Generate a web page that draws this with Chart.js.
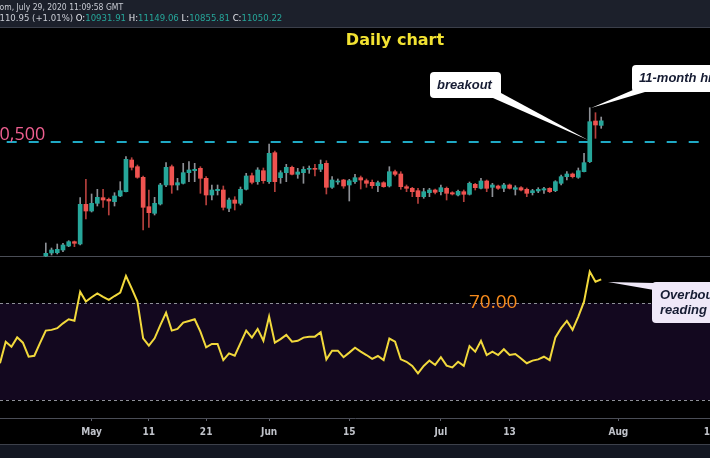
<!DOCTYPE html>
<html>
<head>
<meta charset="utf-8">
<script src="https://cdn.jsdelivr.net/npm/chart.js@4"></script>
<style>
  html, body { margin: 0; padding: 0; background: #000; overflow: hidden; }
  canvas { display: block; }
</style>
</head>
<body>
<canvas id="myChart" width="710" height="458"></canvas>
<script>
// day numbers count from May 1 2020 (= 0)
const candleStart = -8;   // Apr 23
const rsiStart = -16;     // Apr 15

const open = [
  7536, 7614, 7622, 7692, 7796, 7908, 7848, 8880, 8706, 8906,
  9052, 9010, 8948, 9096, 9208, 10032, 9858, 9582, 8818, 8646,
  8888, 9382, 9858, 9382, 9426, 9702, 9754, 9816, 9556, 9122,
  9234, 9252, 8776, 8992, 8906, 9270, 9624, 9468, 9754, 9468,
  10222, 9572, 9702, 9842, 9660, 9702, 9790, 9816, 9790, 9946,
  9322, 9460, 9512, 9382, 9468, 9572, 9494, 9452, 9364, 9442,
  9356, 9728, 9668, 9338, 9296, 9234, 9078, 9182, 9252, 9208,
  9296, 9182, 9122, 9208, 9140, 9400, 9296, 9486, 9322, 9356,
  9296, 9382, 9270, 9312, 9270, 9182, 9226, 9252, 9296, 9234,
  9426, 9598, 9668, 9582, 9728, 9988, 11046, 10932
];
const high = [
  7874, 7744, 7848, 7866, 7934, 7926, 9052, 9530, 9148, 9270,
  9270, 9044, 9182, 9468, 10118, 10092, 9902, 9616, 9252, 9062,
  9426, 9962, 9902, 9556, 9946, 9988, 9946, 9858, 9598, 9382,
  9382, 9356, 9044, 9078, 9330, 9686, 9694, 9832, 9824, 10448,
  10266, 9754, 9920, 9876, 9816, 9858, 9876, 9920, 10032, 10014,
  9598, 9538, 9530, 9530, 9660, 9616, 9538, 9512, 9486, 9468,
  9858, 9772, 9728, 9382, 9322, 9296, 9296, 9296, 9278, 9382,
  9330, 9208, 9252, 9252, 9460, 9426, 9556, 9512, 9426, 9382,
  9426, 9408, 9364, 9338, 9304, 9270, 9312, 9322, 9312, 9494,
  9642, 9728, 9694, 9824, 10206, 11392, 11262, 11149
];
const low = [
  7523, 7562, 7588, 7648, 7778, 7778, 7822, 8498, 8680, 8836,
  8802, 8602, 8836, 9078, 9200, 9772, 9556, 8212, 8282, 8602,
  8862, 9338, 9166, 9252, 9408, 9468, 9468, 9166, 8862, 8992,
  9122, 8732, 8690, 8732, 8862, 9252, 9408, 9400, 9426, 9426,
  9208, 9426, 9468, 9642, 9556, 9426, 9686, 9616, 9728, 9148,
  9296, 9400, 9296, 8966, 9426, 9278, 9322, 9296, 9208, 9322,
  9330, 9616, 9270, 9208, 9078, 8906, 9036, 9078, 9148, 9122,
  8992, 9122, 9096, 8948, 9122, 9252, 9278, 9208, 9078, 9270,
  9208, 9278, 9122, 9226, 9078, 9122, 9182, 9166, 9182, 9208,
  9382, 9512, 9564, 9556, 9720, 9966, 10596, 10856
];
const close = [
  7606, 7692, 7710, 7822, 7908, 7866, 8880, 8706, 8906, 9062,
  8992, 8966, 9096, 9234, 10050, 9842, 9582, 8802, 8662, 8906,
  9382, 9842, 9382, 9442, 9702, 9772, 9790, 9556, 9122, 9252,
  9270, 8802, 8992, 8906, 9270, 9616, 9452, 9772, 9494, 10206,
  9468, 9702, 9842, 9660, 9720, 9790, 9816, 9790, 9920, 9322,
  9512, 9486, 9356, 9494, 9572, 9512, 9426, 9364, 9442, 9338,
  9728, 9660, 9338, 9296, 9208, 9078, 9208, 9252, 9192, 9312,
  9166, 9148, 9218, 9140, 9426, 9312, 9486, 9296, 9382, 9296,
  9382, 9296, 9312, 9252, 9166, 9234, 9270, 9286, 9208, 9468,
  9598, 9668, 9598, 9754, 9962, 11028, 10942, 11050
];
const rsi = [
  45.2, 54.1, 52.0, 55.9, 53.7, 47.9, 48.3, 53.6, 58.7, 59.0,
  59.7, 61.7, 63.4, 62.8, 74.8, 70.7, 72.5, 74.1, 72.7, 71.4,
  73.0, 74.4, 81.3, 76.2, 70.7, 55.5, 52.5, 55.5, 61.0, 66.1,
  58.7, 59.4, 62.0, 62.7, 63.4, 58.3, 51.8, 53.2, 53.2, 46.5,
  49.3, 48.3, 53.5, 58.7, 55.8, 59.4, 54.5, 64.5, 53.7, 55.2,
  56.9, 54.1, 54.5, 55.8, 56.2, 56.2, 58.0, 46.8, 50.4, 50.4,
  47.7, 49.6, 51.6, 50.0, 48.6, 47.0, 48.2, 46.5, 55.4, 54.1,
  46.8, 45.8, 44.1, 41.0, 44.1, 46.3, 44.5, 47.7, 44.2, 43.5,
  45.8, 44.1, 52.3, 50.0, 54.5, 48.6, 50.0, 48.6, 51.0, 48.6,
  49.0, 47.2, 45.2, 46.3, 46.8, 47.9, 46.5, 55.9, 59.7, 62.7,
  59.0, 64.5, 70.7, 83.1, 78.9, 79.9
];

const tickDays = [0, 10, 20, 31, 45, 61, 73, 92, 108];
const tickLabels = ['May', '11', '21', 'Jun', '15', 'Jul', '13', 'Aug', '17'];

const resistance = 10500;
const rsiUpper = 70;
const rsiLower = 30;

const up = '#26a69a';
const down = '#ef5350';

const candleDays = open.map((_, i) => candleStart + i);
const rsiDays = rsi.map((_, i) => rsiStart + i);
const isUp = open.map((o, i) => close[i] >= o);

function callout(ctx, box, tip, fill, lines, lineY) {
  ctx.save();
  ctx.fillStyle = fill;
  ctx.beginPath();
  ctx.moveTo(tip[0][0], tip[0][1]);
  ctx.lineTo(tip[1][0], tip[1][1]);
  ctx.lineTo(tip[2][0], tip[2][1]);
  ctx.closePath();
  ctx.fill();
  ctx.beginPath();
  ctx.roundRect(box.x, box.y, box.w, box.h, 4);
  ctx.fill();
  ctx.fillStyle = '#161c33';
  ctx.font = 'italic bold 13px "Liberation Sans", Arial, sans-serif';
  ctx.textBaseline = 'alphabetic';
  ctx.textAlign = 'left';
  lines.forEach((t, i) => ctx.fillText(t, box.tx, lineY[i]));
  ctx.restore();
}

const panes = {
  id: 'panes',
  beforeDraw(chart) {
    const ctx = chart.ctx;
    const yr = chart.scales.yr;
    ctx.save();
    ctx.fillStyle = '#000';
    ctx.fillRect(0, 0, 710, 458);
    // header strip
    ctx.fillStyle = '#1c202b';
    ctx.fillRect(0, 0, 710, 27);
    ctx.fillStyle = '#3b3f4a';
    ctx.fillRect(0, 27, 710, 1);
    // rsi band
    const y70 = yr.getPixelForValue(rsiUpper);
    const y30 = yr.getPixelForValue(rsiLower);
    ctx.fillStyle = '#13081f';
    ctx.fillRect(0, y70, 710, y30 - y70);
    // pane separator
    ctx.fillStyle = '#4a4d56';
    ctx.fillRect(0, 256, 710, 1);
    // bottom strip
    ctx.fillStyle = '#131722';
    ctx.fillRect(0, 445, 710, 13);
    ctx.fillStyle = '#3d414b';
    ctx.fillRect(0, 444, 710, 1);
    ctx.restore();
  },
  beforeDatasetsDraw(chart) {
    const ctx = chart.ctx;
    const y = chart.scales.y.getPixelForValue(resistance);
    const yr = chart.scales.yr;
    ctx.save();
    ctx.strokeStyle = '#8e9098';
    ctx.lineWidth = 1;
    ctx.setLineDash([3, 3]);
    [rsiUpper, rsiLower].forEach(v => {
      const py = Math.round(yr.getPixelForValue(v)) + 0.5;
      ctx.beginPath();
      ctx.moveTo(0, py);
      ctx.lineTo(710, py);
      ctx.stroke();
    });
    ctx.strokeStyle = '#1fa9c4';
    ctx.lineWidth = 2.2;
    ctx.setLineDash([10, 12]);
    ctx.lineDashOffset = 15.3;
    ctx.beginPath();
    ctx.moveTo(0, y);
    ctx.lineTo(710, y);
    ctx.stroke();
    ctx.restore();
  },
  afterDraw(chart) {
    const ctx = chart.ctx;
    const y = chart.scales.y.getPixelForValue(resistance);
    const yr = chart.scales.yr;
    ctx.save();

    // header
    ctx.textBaseline = 'alphabetic';
    ctx.textAlign = 'left';
    ctx.font = '8.5px "Liberation Sans Narrow", "DejaVu Sans Condensed", sans-serif';
    ctx.fillStyle = '#c9ccd4';
    ctx.fillText('TradingView.com, July 29, 2020 11:09:58 GMT',
      -ctx.measureText('TradingView.c').width - 0.5, 10);
    ctx.font = '9.5px "Liberation Sans Narrow", "DejaVu Sans Condensed", sans-serif';
    const parts = [
      ['+110.95 (+1.01%) ', '#c9ccd4'], ['O:', '#e4e6ec'], ['10931.91 ', up],
      ['H:', '#e4e6ec'], ['11149.06 ', up], ['L:', '#e4e6ec'], ['10855.81 ', up],
      ['C:', '#e4e6ec'], ['11050.22', up]
    ];
    let hx = -ctx.measureText('+').width - 0.5;
    parts.forEach(([t, c]) => {
      ctx.fillStyle = c;
      ctx.fillText(t, hx, 21);
      hx += ctx.measureText(t).width;
    });

    // title
    ctx.font = 'bold 16px "DejaVu Sans", sans-serif';
    ctx.fillStyle = '#f2e232';
    ctx.textAlign = 'center';
    ctx.fillText('Daily chart', 395, 45);

    // level labels
    ctx.textAlign = 'left';
    ctx.font = '18px "Open Sans", sans-serif';
    ctx.fillStyle = '#ee5f90';
    ctx.fillText('10,500', -ctx.measureText('1').width - 0.5, y - 2.5);
    ctx.font = '19px "Open Sans", sans-serif';
    ctx.fillStyle = '#f5891c';
    ctx.fillText('70.00', 469, yr.getPixelForValue(rsiUpper) + 5);

    ctx.restore();

    // callouts
    callout(ctx, {x: 430, y: 72, w: 71, h: 26, tx: 437},
      [[493, 98], [501, 93], [588, 140]], '#ffffff', ['breakout'], [89]);
    callout(ctx, {x: 632, y: 65, w: 100, h: 27, tx: 639},
      [[591, 108], [633, 90], [645, 92]], '#ffffff', ['11-month high'], [82]);
    callout(ctx, {x: 652, y: 282, w: 80, h: 41, tx: 660},
      [[608, 282], [654, 283], [654, 290]], '#efe8f8', ['Overbought', 'reading'], [299, 314]);
  }
};

const ctx = document.getElementById('myChart');

new Chart(ctx, {
  type: 'bar',
  data: {
    datasets: [
      {
        label: 'body',
        data: candleDays.map((d, i) => ({x: d, y: [open[i], close[i]]})),
        backgroundColor: isUp.map(u => (u ? up : down)),
        barThickness: 4,
        minBarLength: 1,
        grouped: false,
        yAxisID: 'y',
      },
      {
        label: 'wick',
        data: candleDays.map((d, i) => ({x: d, y: [low[i], high[i]]})),
        backgroundColor: isUp.map(u => (u ? '#8d9096' : '#b5403d')),
        barThickness: 1,
        grouped: false,
        yAxisID: 'y',
      },
      {
        type: 'line',
        label: 'RSI',
        data: rsiDays.map((d, i) => ({x: d, y: rsi[i]})),
        borderColor: '#f2d93c',
        borderWidth: 2,
        pointRadius: 0,
        tension: 0,
        yAxisID: 'yr',
      }
    ],
  },
  options: {
    responsive: false,
    animation: false,
    events: [],
    layout: { padding: { top: 28, bottom: 13, left: 0, right: 0 } },
    plugins: {
      legend: { display: false },
      tooltip: { enabled: false },
    },
    scales: {
      x: {
        type: 'linear',
        min: -16,
        max: 108,
        offset: false,
        grid: { display: true, offset: false, drawOnChartArea: false, drawTicks: true, tickLength: 3, color: '#5d606b' },
        border: { display: true, color: '#4a4d56' },
        ticks: {
          autoSkip: false,
          maxRotation: 0,
          padding: 5,
          color: '#c0c3ca',
          font: { family: '"Liberation Sans Narrow", "DejaVu Sans Condensed", sans-serif', size: 10, weight: 'bold' },
          callback: v => tickLabels[tickDays.indexOf(v)],
        },
        afterBuildTicks: s => { s.ticks = tickDays.map(v => ({ value: v })); },
        afterFit: s => { s.height = 27; s.paddingLeft = 0; s.paddingRight = 0; },
      },
      y: { type: 'linear', display: false, min: 3324, max: 13464 },
      yr: { type: 'linear', display: false, min: 22.55, max: 183.88 },
    },
  },
  plugins: [panes],
});
</script>
</body>
</html>
